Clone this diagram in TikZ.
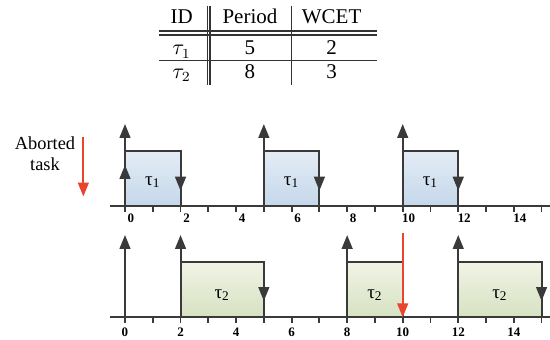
\documentclass[tikz,border=0pt]{standalone}
\usepackage{fontspec}
\setmainfont{Liberation Serif}
\usetikzlibrary{arrows.meta}

\definecolor{edgegray}{HTML}{3A3A3A}
\definecolor{abortred}{HTML}{E8442E}
\definecolor{blueTop}{HTML}{E4EDF6}
\definecolor{blueBot}{HTML}{C4D7EA}
\definecolor{greenTop}{HTML}{F1F4E5}
\definecolor{greenBot}{HTML}{D6E1C2}

\begin{document}
\begin{tikzpicture}[
    x=0.4886cm, y=0.4886cm,
    >={Triangle[length=7pt, width=5.4pt]},
    axis/.style={line width=0.9pt, edgegray},
    event/.style={->, line width=1pt, edgegray},
    aborted/.style={->, line width=1pt, abortred},
    jobA/.style={draw=edgegray, line width=1pt, top color=blueTop, bottom color=blueBot},
    jobB/.style={draw=edgegray, line width=1pt, top color=greenTop, bottom color=greenBot},
    ticklbl/.style={font=\fontsize{6.5}{7}\selectfont\bfseries, inner sep=0pt, anchor=base},
    joblbl/.style={font=\fontsize{9.5}{10}\selectfont, inner sep=0pt},
    cell/.style={font=\fontsize{10.5}{12}\selectfont, inner sep=0pt, anchor=base},
    rule/.style={line width=0.6pt, black!80}
  ]
  \useasboundingbox (-4.501,0) rectangle (15.304,12.207);

  % Table
  \node[cell] (hID) at (2.04, 11.343) {ID};
  \node[cell] (hPeriod) at (4.5, 11.343) {Period};
  \node[cell] (hWCET) at (7.44, 11.343) {WCET};
  \node[cell] (id1) at (2.04, 10.227) {$\tau_1$};
  \node[cell] (p1) at (4.5, 10.227) {5};
  \node[cell] (c1) at (7.44, 10.227) {2};
  \node[cell] (id2) at (2.04, 9.398) {$\tau_2$};
  \node[cell] (p2) at (4.5, 9.398) {8};
  \node[cell] (c2) at (7.44, 9.398) {3};
  \draw[rule] (1.224, 11.09) -- (9.064, 11.09);
  \draw[rule] (1.224, 10.95) -- (9.064, 10.95);
  \draw[rule] (1.224, 10.02) -- (9.064, 10.02);
  \draw[rule] (2.97, 12.0) -- (2.97, 9.146);
  \draw[rule] (3.06, 12.0) -- (3.06, 9.146);
  \draw[rule] (6.003, 12.0) -- (6.003, 9.146);

  % Legend
  \node[font=\fontsize{9.2}{10.5}\selectfont, align=center, inner sep=0pt]
    (abortlbl) at (-2.88, 6.673) {Aborted\\task};
  \coordinate (abortS) at (-1.5, 7.29);
  \coordinate (abortE) at (-1.5, 5.13);
  \draw[aborted] (abortS) -- (abortE);

  % Task 1
  \foreach \s in {0,5,10}
    \draw[jobA] (\s, 4.789) rectangle (\s+2, 6.781);
  \node[joblbl] (j11) at (1, 5.65) {τ\textsubscript{1}};
  \node[joblbl] (j12) at (6, 5.65) {τ\textsubscript{1}};
  \node[joblbl] (j13) at (11, 5.65) {τ\textsubscript{1}};
  \draw[axis] (-0.54, 4.789) -- (15.304, 4.789);
  \foreach \t in {0,...,15}
    \draw[axis] (\t, 4.789) -- (\t, 4.57);
  \foreach \t in {0,2,...,14}
    \node[ticklbl, xshift=3pt] at (\t, 4.213) {\t};
  \foreach \s in {0,5,10}
    \draw[event] (\s, 4.789) -- (\s, 7.742);
  \draw[event] (0, 4.789) -- (0, 6.266);
  \foreach \d in {2,7,12}
    \draw[event] (\d, 6.781) -- (\d, 5.34);

  % Task 2
  \draw[jobB] (2, 0.781) rectangle (5, 2.762);
  \draw[jobB] (8, 0.781) rectangle (10, 2.762);
  \draw[jobB] (12, 0.781) rectangle (15, 2.762);
  \node[joblbl] (j21) at (3.5, 1.584) {τ\textsubscript{2}};
  \node[joblbl] (j22) at (9, 1.584) {τ\textsubscript{2}};
  \node[joblbl] (j23) at (13.5, 1.584) {τ\textsubscript{2}};
  \draw[axis] (-0.54, 0.781) -- (15.304, 0.781);
  \foreach \t in {0,...,15}
    \draw[axis] (\t, 0.781) -- (\t, 0.56);
  \foreach \t in {0,2,...,14}
    \node[ticklbl] at (\t, 0.083) {\t};
  \foreach \s in {0,2,8,12}
    \draw[event] (\s, 0.781) -- (\s, 3.745);
  \foreach \d in {5,15}
    \draw[event] (\d, 2.762) -- (\d, 1.368);
  \coordinate (killS) at (10, 3.817);
  \coordinate (killE) at (10, 0.781);
  \draw[aborted] (killS) -- (killE);
\end{tikzpicture}
\end{document}
